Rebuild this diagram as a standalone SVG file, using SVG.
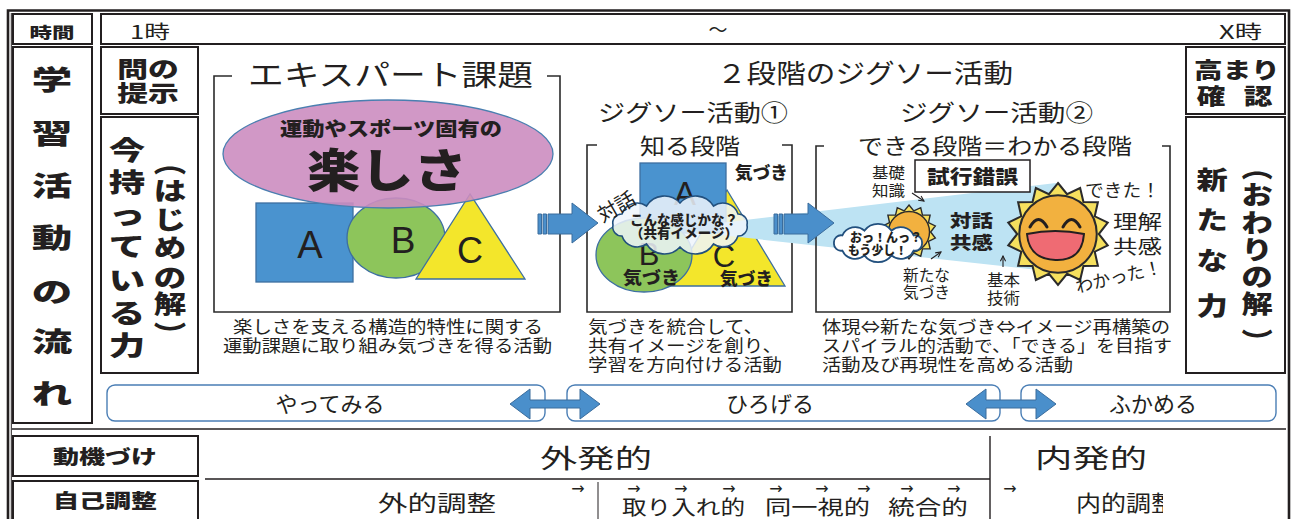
<svg xmlns="http://www.w3.org/2000/svg" width="1291" height="519" viewBox="0 0 1291 519">
<defs>
<style>
.t{font-family:"Noto Sans CJK JP","Noto Sans CJK SC",sans-serif;fill:#231f20}
.b{font-weight:900}
.m{text-anchor:middle}
.box{fill:none;stroke:#231f20;stroke-width:2}
.rule{fill:none;stroke:#231f20;stroke-width:1.4}
.brk{fill:none;stroke:#2b2b2b;stroke-width:1.6}
.blue{fill:#4A93CF;stroke:#3D6FA0;stroke-width:1.3}
.green{fill:#8DC55B;stroke:#3D6FA0;stroke-width:1.3}
.yellow{fill:#F3E62B;stroke:#3D6FA0;stroke-width:1.3}
.pill{fill:#fff;stroke:#4A7EB5;stroke-width:1.4}
.arrow{fill:#4A8FCB;stroke:#3A6C9C;stroke-width:1}
.cap{font-size:17px}
.lt{font-family:"Liberation Sans",Arial,sans-serif;fill:#231f20}
.dv{font-family:"DejaVu Sans",sans-serif;fill:#231f20;text-anchor:middle}
.note{fill:none;stroke:#231f20;stroke-width:1.1}
.rays{fill:#F6E05E;stroke:#2b2b2b}
.face{fill:#F2B13F;stroke:#2b2b2b}
</style>
<marker id="ah" viewBox="0 0 8 8" refX="7" refY="4" markerWidth="7" markerHeight="7" orient="auto" markerUnits="userSpaceOnUse"><path d="M1,1 L7,4 L1,7" fill="none" stroke="#231f20" stroke-width="1.2"/></marker>
<polygon id="rays" points="0,-50 8.9,-39 21.7,-45.05 24.94,-31.27 39.09,-31.18 36.04,-17.36 48.75,-11.13 40,0 48.75,11.13 36.04,17.36 39.09,31.18 24.94,31.27 21.7,45.05 8.9,39 0,50 -8.9,39 -21.7,45.05 -24.94,31.27 -39.09,31.18 -36.04,17.36 -48.75,11.13 -40,0 -48.75,-11.13 -36.04,-17.36 -39.09,-31.18 -24.94,-31.27 -21.7,-45.05 -8.9,-39"/>
<clipPath id="clipEnd"><rect x="1060" y="480" width="103" height="39"/></clipPath>
</defs>

<rect width="1291" height="519" fill="#fff"/>

<!-- outer frame and table rules -->
<g id="frame">
<path d="M8 519 V10.5 H1289 V519" fill="none" stroke="#231f20" stroke-width="2.6"/>
<path d="M11.3 13 V519" fill="none" stroke="#231f20" stroke-width="1"/>
<path class="rule" d="M12 429 H1286"/>
<path class="rule" d="M205 479 H990 M990 436 V519"/>
<path d="M598 482 V519" fill="none" stroke="#231f20" stroke-width="1"/>
</g>

<!-- time row -->
<g id="time-label">
<rect class="box" x="13" y="14" width="79" height="30"/>
<text class="t b m" font-size="15" transform="translate(52 37.5) scale(1.5 1)">時間</text>
</g>
<g id="time-bar">
<rect class="box" x="101" y="14" width="1184" height="30"/>
<text class="t" x="130" y="38.5" font-size="19" textLength="40" lengthAdjust="spacingAndGlyphs">1時</text>
<text class="t m" x="718" y="37" font-size="19">～</text>
<text class="t" x="1219" y="38.5" font-size="19" textLength="43" lengthAdjust="spacingAndGlyphs">X時</text>
</g>

<!-- left columns -->
<g id="flow-label">
<rect class="box" x="13" y="47" width="79" height="376"/>
<g class="t b m" font-size="27">
<text transform="translate(52 90) scale(1.5 1)">学</text>
<text transform="translate(52 144) scale(1.5 1)">習</text>
<text transform="translate(52 196) scale(1.5 1)">活</text>
<text transform="translate(52 248) scale(1.5 1)">動</text>
<text transform="translate(52 302) scale(1.5 1)">の</text>
<text transform="translate(52 352) scale(1.5 1)">流</text>
<text transform="translate(52 404) scale(1.5 1)">れ</text>
</g>
</g>
<g id="question">
<rect class="box" x="101" y="47" width="97" height="67"/>
<text class="t b m" font-size="22" transform="translate(148 77) scale(1.4 1)">問の</text>
<text class="t b m" font-size="22" transform="translate(148 101) scale(1.4 1)">提示</text>
</g>
<g id="current-ability">
<rect class="box" x="101" y="117" width="97" height="256"/>
<g class="t b m" font-size="26">
<text transform="translate(127 160) scale(1.4 1)">今</text>
<text transform="translate(127 192) scale(1.4 1)">持</text>
<text transform="translate(127 224) scale(1.4 1)">っ</text>
<text transform="translate(127 256) scale(1.4 1)">て</text>
<text transform="translate(127 290) scale(1.4 1)">い</text>
<text transform="translate(127 323) scale(1.4 1)">る</text>
<text transform="translate(127 355) scale(1.4 1)">力</text>
</g>
<g class="t b m" font-size="25">
<text transform="translate(170 172) scale(1.3 1)">︵</text>
<text transform="translate(170 200) scale(1.3 1)">は</text>
<text transform="translate(170 229) scale(1.3 1)">じ</text>
<text transform="translate(170 257) scale(1.3 1)">め</text>
<text transform="translate(170 287) scale(1.3 1)">の</text>
<text transform="translate(170 313) scale(1.3 1)">解</text>
<text transform="translate(170 344) scale(1.3 1)">︶</text>
</g>
</g>

<!-- right columns -->
<g id="check">
<rect class="box" x="1186" y="47" width="99" height="67"/>
<text class="t b m" font-size="22" transform="translate(1237 78) scale(1.3 1)">高まり</text>
<text class="t b m" font-size="22" transform="translate(1211 104) scale(1.3 1)">確</text>
<text class="t b m" font-size="22" transform="translate(1258 104) scale(1.3 1)">認</text>
</g>
<g id="new-ability">
<rect class="box" x="1186" y="117" width="99" height="256"/>
<g class="t b m" font-size="25">
<text transform="translate(1212 189) scale(1.25 1)">新</text>
<text transform="translate(1212 229) scale(1.25 1)">た</text>
<text transform="translate(1212 270) scale(1.25 1)">な</text>
<text transform="translate(1212 315) scale(1.25 1)">力</text>
<text transform="translate(1257 177) scale(1.25 1)">︵</text>
<text transform="translate(1257 204) scale(1.25 1)">お</text>
<text transform="translate(1257 232) scale(1.25 1)">わ</text>
<text transform="translate(1257 259) scale(1.25 1)">り</text>
<text transform="translate(1257 286) scale(1.25 1)">の</text>
<text transform="translate(1257 313) scale(1.25 1)">解</text>
<text transform="translate(1257 351) scale(1.25 1)">︶</text>
</g>
</g>

<!-- expert task -->
<g id="expert">
<path class="brk" d="M232 76 H214 V312 H560 V76 H547"/>
<text class="t" x="248" y="86" font-size="29" textLength="285" lengthAdjust="spacingAndGlyphs">エキスパート課題</text>
<rect class="blue" x="256" y="203" width="97" height="79"/>
<ellipse class="green" cx="396" cy="238" rx="49" ry="40"/>
<polygon class="yellow" points="470,194 416,279 525,279"/>
<ellipse cx="388" cy="154" rx="165" ry="54" fill="#CC8DC0" fill-opacity="0.9" stroke="#4A7FB0" stroke-width="1.3"/>
<text class="t b" x="280" y="136" font-size="19" textLength="222" lengthAdjust="spacingAndGlyphs">運動やスポーツ固有の</text>
<text class="t b" x="307" y="187" font-size="46" textLength="160" lengthAdjust="spacingAndGlyphs">楽しさ</text>
<text class="lt m" x="310" y="258" font-size="38">A</text>
<text class="lt m" x="403" y="253" font-size="37">B</text>
<text class="lt m" x="470" y="263" font-size="36">C</text>
<text class="t cap" x="233" y="333" textLength="310" lengthAdjust="spacingAndGlyphs">楽しさを支える構造的特性に関する</text>
<text class="t cap" x="223" y="352" textLength="329" lengthAdjust="spacingAndGlyphs">運動課題に取り組み気づきを得る活動</text>
</g>

<text class="t" x="717" y="83" font-size="26" textLength="296" lengthAdjust="spacingAndGlyphs">２段階のジグソー活動</text>

<!-- jigsaw 1 -->
<g id="jigsaw1">
<text class="t" x="598" y="121" font-size="23" textLength="190" lengthAdjust="spacingAndGlyphs">ジグソー活動①</text>
<path class="brk" d="M597 145 H587 V312 H792 V145 H782"/>
<text class="t" x="640" y="154" font-size="22" textLength="100" lengthAdjust="spacingAndGlyphs">知る段階</text>
<polygon class="yellow" points="727,190 669,286 785,286"/>
<rect class="blue" x="640" y="163" width="86" height="70"/>
<ellipse class="green" cx="644" cy="255" rx="48" ry="37"/>
<text class="lt m" x="685" y="205" font-size="33">A</text>
<text class="lt m" x="649" y="265" font-size="31">B</text>
<text class="lt m" x="724" y="267" font-size="31">C</text>
<polygon points="720,223 1056,183 1056,272 720,235" fill="#BDE3F3"/>
<path d="M747,225 A9,9 0 0 1 738,236 A16,16 0 0 1 713.5,244 A21,21 0 0 1 680,247 A21,21 0 0 1 646.5,244 A16,16 0 0 1 622,236 A9,9 0 0 1 613,225 A9,9 0 0 1 622,214 A16,16 0 0 1 646.5,206 A21,21 0 0 1 680,203 A21,21 0 0 1 713.5,206 A16,16 0 0 1 738,214 A9,9 0 0 1 747,225 Z" fill="#EEF5FB" fill-opacity="0.85" stroke="#22507E" stroke-width="1.6"/>
<text class="t b" x="630" y="225" font-size="13.5" textLength="108" lengthAdjust="spacingAndGlyphs">こんな感じかな？</text>
<text class="t b" x="630" y="238" font-size="13.5" textLength="108" lengthAdjust="spacingAndGlyphs">（共有イメージ）</text>
<text class="t m" font-size="20" transform="translate(620 213) rotate(-30)">対話</text>
<text class="t b" x="735" y="179" font-size="17" textLength="53" lengthAdjust="spacingAndGlyphs">気づき</text>
<text class="t b" x="623" y="284" font-size="17" textLength="57" lengthAdjust="spacingAndGlyphs">気づき</text>
<text class="t b" x="720" y="285" font-size="17" textLength="53" lengthAdjust="spacingAndGlyphs">気づき</text>
<text class="t cap" x="588" y="333" textLength="175" lengthAdjust="spacingAndGlyphs">気づきを統合して、</text>
<text class="t cap" x="588" y="352" textLength="194" lengthAdjust="spacingAndGlyphs">共有イメージを創り、</text>
<text class="t cap" x="588" y="371" textLength="194" lengthAdjust="spacingAndGlyphs">学習を方向付ける活動</text>
</g>

<!-- jigsaw 2 -->
<g id="jigsaw2">
<text class="t" x="900" y="121" font-size="23" textLength="193" lengthAdjust="spacingAndGlyphs">ジグソー活動②</text>
<path class="brk" d="M824 146 H816 V312 H1170 V146 H1162"/>
<text class="t" x="858" y="154" font-size="22" textLength="274" lengthAdjust="spacingAndGlyphs">できる段階＝わかる段階</text>
<text class="t" x="872" y="178" font-size="15" textLength="33" lengthAdjust="spacingAndGlyphs">基礎</text>
<text class="t" x="872" y="196" font-size="15" textLength="33" lengthAdjust="spacingAndGlyphs">知識</text>
<rect x="915" y="160" width="115" height="32" fill="#fff" stroke="#231f20" stroke-width="1.5"/>
<text class="t b" x="927" y="184" font-size="19" textLength="91" lengthAdjust="spacingAndGlyphs">試行錯誤</text>
<g transform="translate(909 232) scale(0.54)">
<use href="#rays" class="rays" stroke-width="2.6"/>
<circle r="38" class="face" stroke-width="2.6"/>
</g>
<path d="M922,243 A7,7 0 0 1 913.6,250.6 A14,14 0 0 1 891.6,255.4 A17,17 0 0 1 864.4,255.4 A14,14 0 0 1 842.4,250.6 A7,7 0 0 1 834,243 A7,7 0 0 1 842.4,235.4 A14,14 0 0 1 864.4,230.6 A17,17 0 0 1 891.6,230.6 A14,14 0 0 1 913.6,235.4 A7,7 0 0 1 922,243 Z" fill="#fff" stroke="#22507E" stroke-width="1.8"/>
<text class="t b" x="850" y="241.5" font-size="12" textLength="72" lengthAdjust="spacingAndGlyphs">おっ！んっ？</text>
<text class="t b" x="848" y="254.5" font-size="12" textLength="59" lengthAdjust="spacingAndGlyphs">もう少し！</text>
<text class="t" x="903" y="281" font-size="15.5" textLength="47" lengthAdjust="spacingAndGlyphs">新たな</text>
<text class="t" x="903" y="298" font-size="15.5" textLength="47" lengthAdjust="spacingAndGlyphs">気づき</text>
<text class="t b" x="950" y="227" font-size="17" textLength="43" lengthAdjust="spacingAndGlyphs">対話</text>
<text class="t b" x="950" y="249" font-size="17" textLength="43" lengthAdjust="spacingAndGlyphs">共感</text>
<text class="t" x="987" y="286" font-size="16" textLength="33" lengthAdjust="spacingAndGlyphs">基本</text>
<text class="t" x="987" y="304" font-size="16" textLength="33" lengthAdjust="spacingAndGlyphs">技術</text>
<g transform="translate(1058 234) scale(1.02)">
<use href="#rays" class="rays" stroke-width="2"/>
<circle r="38" class="face" stroke-width="2"/>
</g>
<path d="M1030,227 Q1038.5,212 1047,227 M1063,227 Q1071.5,212 1080,227" fill="none" stroke="#231f20" stroke-width="3" stroke-linecap="round"/>
<path d="M1027,234 Q1055,228 1084,234 Q1082,261 1055.5,260 Q1029,259 1027,234 Z" fill="#EF6B73" stroke="#231f20" stroke-width="2"/>
<text class="t" x="1085" y="197" font-size="18" textLength="75" lengthAdjust="spacingAndGlyphs">できた！</text>
<text class="t" x="1113" y="229" font-size="19" textLength="49" lengthAdjust="spacingAndGlyphs">理解</text>
<text class="t" x="1113" y="254" font-size="19" textLength="49" lengthAdjust="spacingAndGlyphs">共感</text>
<text class="t m" font-size="18" transform="translate(1120 283) rotate(-13)" textLength="88" lengthAdjust="spacingAndGlyphs">わかった！</text>
<text class="t cap" x="822" y="333" textLength="348" lengthAdjust="spacingAndGlyphs">体現⇔新たな気づき⇔イメージ再構築の</text>
<text class="t cap" x="822" y="352" textLength="350" lengthAdjust="spacingAndGlyphs">スパイラル的活動で、「できる」を目指す</text>
<text class="t cap" x="822" y="371" textLength="251" lengthAdjust="spacingAndGlyphs">活動及び再現性を高める活動</text>
</g>

<!-- stages -->
<g id="stage-try">
<rect class="pill" x="107" y="385" width="438" height="36" rx="8"/>
<text class="t m" x="330" y="412" font-size="22">やってみる</text>
</g>
<g id="stage-widen">
<rect class="pill" x="567" y="385" width="433" height="36" rx="8"/>
<text class="t m" x="770" y="412" font-size="22">ひろげる</text>
</g>
<g id="stage-deepen">
<rect class="pill" x="1021" y="385" width="255" height="36" rx="8"/>
<text class="t m" x="1153" y="412" font-size="22">ふかめる</text>
</g>

<!-- bottom rows -->
<g id="motivation">
<rect class="box" x="13" y="436" width="185" height="40"/>
<text class="t b m" font-size="19" transform="translate(105 463.5) scale(1.37 1)">動機づけ</text>
<text class="t" x="540" y="468" font-size="26" textLength="112" lengthAdjust="spacingAndGlyphs">外発的</text>
<text class="t" x="1035" y="468" font-size="26" textLength="112" lengthAdjust="spacingAndGlyphs">内発的</text>
</g>
<g id="self-regulation">
<rect class="box" x="13" y="481" width="185" height="42"/>
<text class="t b m" font-size="19" transform="translate(105 508) scale(1.37 1)">自己調整</text>
<text class="t" x="378" y="511" font-size="22" textLength="118" lengthAdjust="spacingAndGlyphs">外的調整</text>
<text class="t" x="622" y="515" font-size="20" textLength="123" lengthAdjust="spacingAndGlyphs">取り入れ的</text>
<text class="t" x="765" y="515" font-size="20" textLength="105" lengthAdjust="spacingAndGlyphs">同一視的</text>
<text class="t" x="888" y="515" font-size="20" textLength="80" lengthAdjust="spacingAndGlyphs">統合的</text>
<g class="dv" font-size="16">
<text x="578" y="494">→</text>
<text x="634" y="494">→</text>
<text x="681" y="494">→</text>
<text x="729" y="494">→</text>
<text x="776" y="494">→</text>
<text x="822" y="494">→</text>
<text x="864" y="494">→</text>
<text x="907" y="494">→</text>
<text x="954" y="494">→</text>
<text x="1010" y="494">→</text>
</g>
<text class="t" x="1076" y="511" font-size="22" textLength="100" lengthAdjust="spacingAndGlyphs" clip-path="url(#clipEnd)">内的調整</text>
</g>

<!-- connectors -->
<g id="connectors">
<path class="arrow" d="M538 214 h3.5 v20 h-3.5 Z M543 214 h3.5 v20 h-3.5 Z M548 214 H572 V203 L598 223 L572 243 V234 H548 Z"/>
<path class="arrow" d="M774 214 h3.5 v20 h-3.5 Z M779 214 h3.5 v20 h-3.5 Z M784 214 H808 V203 L834 223 L808 243 V234 H784 Z"/>
<path class="arrow" d="M510 404 L530 389 V400 H580 V389 L600 404 L580 419 V408 H530 V419 Z"/>
<path class="arrow" d="M966 404 L986 389 V400 H1036 V389 L1056 404 L1036 419 V408 H986 V419 Z"/>
<path class="note" d="M912 193 L924 201" marker-end="url(#ah)"/>
<path class="note" d="M931 259 L941 252" marker-end="url(#ah)"/>
<path class="note" d="M1003 267 V256" marker-end="url(#ah)"/>
</g>
</svg>
